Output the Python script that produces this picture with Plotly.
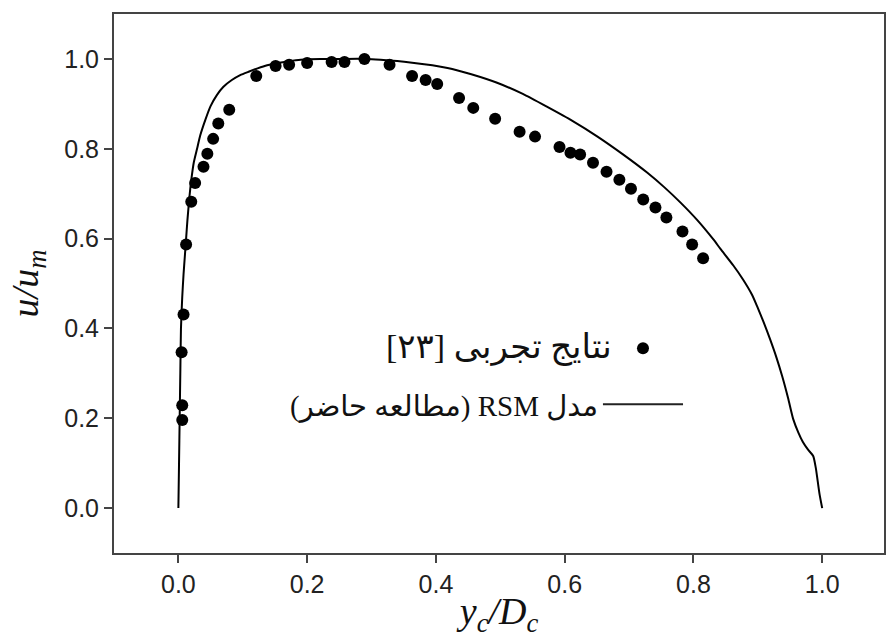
import plotly.graph_objects as go

# Experimental data [23]
exp_x = [0.006, 0.006, 0.005, 0.008, 0.012, 0.020, 0.026, 0.039, 0.045, 0.054, 0.062, 0.079,
         0.121, 0.151, 0.172, 0.200, 0.238, 0.258, 0.289, 0.328,
         0.363, 0.384, 0.402, 0.436, 0.458, 0.492, 0.530, 0.554, 0.592, 0.609, 0.624,
         0.644, 0.665, 0.685, 0.703, 0.722, 0.741, 0.758, 0.783, 0.798, 0.815]
exp_y = [0.196, 0.229, 0.347, 0.431, 0.587, 0.682, 0.724, 0.760, 0.789, 0.822, 0.856, 0.887,
         0.962, 0.984, 0.987, 0.991, 0.993, 0.993, 1.000, 0.987,
         0.962, 0.953, 0.944, 0.913, 0.891, 0.867, 0.838, 0.827, 0.804, 0.791, 0.787,
         0.769, 0.749, 0.731, 0.711, 0.687, 0.669, 0.647, 0.616, 0.587, 0.556]

# RSM model (present study)
rsm_x = [0.0, 0.001, 0.002, 0.003, 0.004, 0.006, 0.008, 0.010, 0.012, 0.014, 0.017, 0.020,
         0.024, 0.029, 0.034, 0.042, 0.050, 0.060, 0.070, 0.083, 0.096, 0.110, 0.123, 0.138,
         0.154, 0.172, 0.190, 0.220, 0.250, 0.290, 0.314, 0.360, 0.418, 0.455, 0.495, 0.535,
         0.573, 0.612, 0.651, 0.690, 0.728, 0.755, 0.780, 0.806, 0.831, 0.842, 0.862, 0.877,
         0.891, 0.899, 0.909, 0.919, 0.929, 0.938, 0.947, 0.955, 0.963, 0.970, 0.978, 0.986,
         0.990, 0.993, 0.996, 1.000]
rsm_y = [0.0, 0.100, 0.200, 0.300, 0.400, 0.470, 0.520, 0.560, 0.600, 0.640, 0.690, 0.730,
         0.770, 0.800, 0.830, 0.865, 0.895, 0.920, 0.938, 0.953, 0.964, 0.972, 0.979, 0.986,
         0.991, 0.995, 0.998, 1.000, 1.000, 1.000, 0.998, 0.992, 0.980, 0.966, 0.947, 0.922,
         0.893, 0.862, 0.827, 0.788, 0.747, 0.714, 0.680, 0.641, 0.598, 0.577, 0.540, 0.509,
         0.475, 0.449, 0.414, 0.376, 0.335, 0.293, 0.245, 0.198, 0.168, 0.147, 0.130, 0.116,
         0.090, 0.060, 0.030, 0.000]

tick_vals = [0.0, 0.2, 0.4, 0.6, 0.8, 1.0]
tick_text = ["0.0", "0.2", "0.4", "0.6", "0.8", "1.0"]

label_exp = "\u202bنتایج تجربی [۲۳]\u202c"
label_rsm = "\u202bمدل RSM (مطالعه حاضر)\u202c"

fig = go.Figure()
fig.add_trace(go.Scatter(x=rsm_x, y=rsm_y, mode="lines",
                         line=dict(color="black", width=2, shape="spline", smoothing=0.6),
                         showlegend=False))
fig.add_trace(go.Scatter(x=exp_x, y=exp_y, mode="markers",
                         marker=dict(color="black", size=12), showlegend=False))

axis_common = dict(showline=True, mirror=True, linecolor="#444", linewidth=2,
                   ticks="outside", ticklen=8, tickwidth=1.5, tickcolor="#444",
                   showgrid=False, zeroline=False, automargin=False,
                   tickfont=dict(family="Liberation Sans, Arial", size=25, color="#222"),
                   tickvals=tick_vals, ticktext=tick_text)

fig.update_xaxes(range=[-0.1, 1.096], **axis_common,
                 title=dict(text="<i>y</i><sub><i>c</i></sub><i>/D</i><sub><i>c</i></sub>",
                            font=dict(family="Liberation Serif, DejaVu Serif", size=38, color="#111"),
                            standoff=0))
fig.update_yaxes(range=[-0.1, 1.1], **axis_common,
                 title=dict(text="<i>u/u</i><sub><i>m</i></sub>",
                            font=dict(family="Liberation Serif, DejaVu Serif", size=38, color="#111"),
                            standoff=14))

# RTL legend built from annotations and shapes
fig.add_annotation(xref="paper", yref="paper", x=0.649, y=0.382, text=label_exp,
                   showarrow=False, xanchor="right", yanchor="middle",
                   font=dict(family="Liberation Serif, DejaVu Sans", size=34, color="#111"))
fig.add_annotation(xref="paper", yref="paper", x=0.631, y=0.272, text=label_rsm,
                   showarrow=False, xanchor="right", yanchor="middle",
                   font=dict(family="Liberation Serif, DejaVu Sans", size=29, color="#111"))
fig.add_shape(type="circle", xref="paper", yref="paper", xsizemode="pixel", ysizemode="pixel",
              xanchor=0.687, yanchor=0.380, x0=-6, x1=6, y0=-6, y1=6,
              fillcolor="black", line=dict(color="black", width=0))
fig.add_shape(type="line", xref="paper", yref="paper", x0=0.635, x1=0.739, y0=0.276, y1=0.276,
              line=dict(color="#222", width=2))

fig.update_layout(width=888, height=638, margin=dict(l=114, r=4, t=14, b=85),
                  plot_bgcolor="white", paper_bgcolor="white")

fig.write_html("out.html", config={"displayModeBar": False},
               post_script="document.body.style.margin='0';document.body.style.overflow='hidden';")
